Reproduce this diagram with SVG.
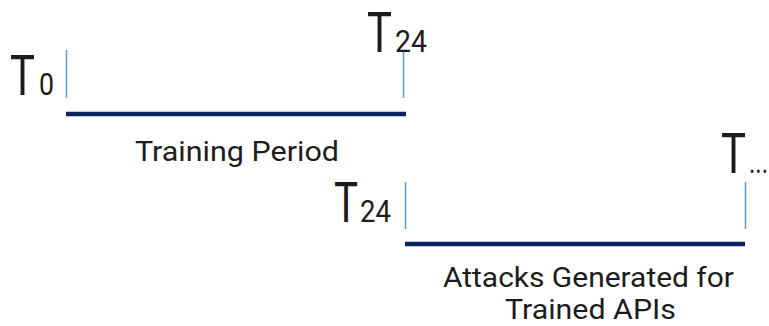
<svg xmlns="http://www.w3.org/2000/svg" width="769" height="326" viewBox="0 0 769 326">
  <style>
    text { font-family: Roboto, "Liberation Sans", sans-serif; fill: #1c1c1c; }
    .big { font-size: 56px; }
    .sub { font-size: 31px; }
    .lbl { font-size: 28px; }
    .tick { stroke: #5b9bd5; stroke-width: 1.5; }
    .bar { stroke: #0c2461; stroke-width: 4.5; }
  </style>
  <rect width="769" height="326" fill="#ffffff"/>

  <!-- timeline bars and tick marks -->
  <g id="connectors">
    <line class="tick" x1="66.5" y1="50" x2="66.5" y2="98"/>
    <line class="tick" x1="403.5" y1="52" x2="403.5" y2="98"/>
    <line class="bar" x1="66" y1="114" x2="406" y2="114"/>
    <line class="tick" x1="405.5" y1="182" x2="405.5" y2="229"/>
    <line class="tick" x1="745.5" y1="182" x2="745.5" y2="229"/>
    <line class="bar" x1="405" y1="244" x2="745" y2="244"/>
  </g>

  <g id="t0">
    <text class="big" x="10" y="95" textLength="25" lengthAdjust="spacingAndGlyphs">T</text>
    <text class="sub" x="39" y="95" textLength="15" lengthAdjust="spacingAndGlyphs">0</text>
  </g>

  <g id="t24-top">
    <text class="big" x="367" y="52" textLength="25" lengthAdjust="spacingAndGlyphs">T</text>
    <text class="sub" x="395" y="52" textLength="32" lengthAdjust="spacingAndGlyphs">24</text>
  </g>

  <g id="training-period">
    <text class="lbl" x="135" y="161" textLength="204" lengthAdjust="spacingAndGlyphs">Training Period</text>
  </g>

  <g id="t24-bottom">
    <text class="big" x="334" y="222" textLength="24" lengthAdjust="spacingAndGlyphs">T</text>
    <text class="sub" x="360" y="222" textLength="31" lengthAdjust="spacingAndGlyphs">24</text>
  </g>

  <g id="t-end">
    <text class="big" x="721" y="173" textLength="25" lengthAdjust="spacingAndGlyphs">T</text>
    <text class="sub" x="749" y="173" textLength="19" lengthAdjust="spacingAndGlyphs">...</text>
  </g>

  <g id="attacks">
    <text class="lbl" x="443" y="287" textLength="291" lengthAdjust="spacingAndGlyphs">Attacks Generated for</text>
    <text class="lbl" x="505" y="319" textLength="171" lengthAdjust="spacingAndGlyphs">Trained APIs</text>
  </g>
</svg>
